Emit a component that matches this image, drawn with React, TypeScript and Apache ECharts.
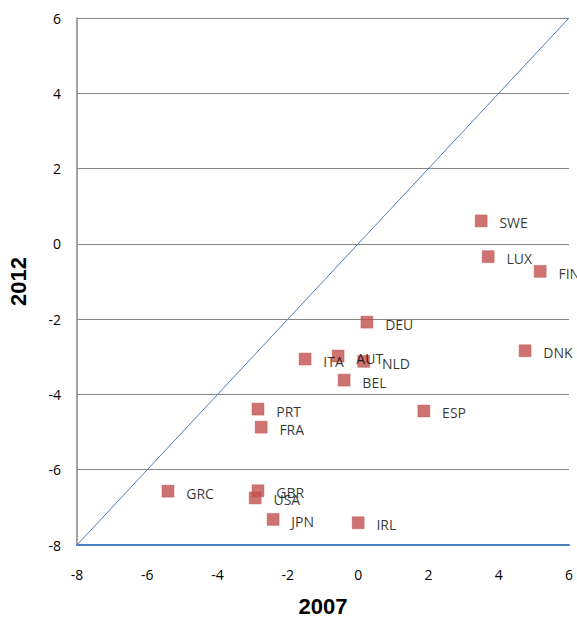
import React, { useEffect, useRef } from "react";
import * as echarts from "echarts";

const countries = ["SWE", "LUX", "FIN", "DEU", "DNK", "ITA", "AUT", "NLD", "BEL", "PRT", "FRA", "ESP", "GRC", "GBR", "USA", "JPN", "IRL"];
const values2007 = [3.5, 3.7, 5.18, 0.25, 4.75, -1.51, -0.57, 0.16, -0.4, -2.85, -2.76, 1.87, -5.41, -2.85, -2.93, -2.42, 0.0];
const values2012 = [0.61, -0.34, -0.73, -2.08, -2.84, -3.06, -2.98, -3.12, -3.62, -4.39, -4.87, -4.44, -6.57, -6.56, -6.75, -7.32, -7.41];
const diagonal = [[-8, -8], [6, 6]];
const axisMin = -8;
const axisMax = 6;
const axisStep = 2;

export default function App() {
  const ref = useRef<HTMLDivElement>(null);
  useEffect(() => {
    if (!ref.current) return;
    document.body.style.margin = "0";
    document.body.style.overflow = "hidden";
    const chart = echarts.init(ref.current, null, { renderer: "svg" });
    const points = countries.map((c, i) => ({ name: c, value: [values2007[i], values2012[i]] }));
    chart.setOption({
      animation: false,
      backgroundColor: "#ffffff",
      grid: { left: 77, top: 18, right: 8, bottom: 76, containLabel: false, outerBoundsMode: "none" },
      xAxis: {
        type: "value",
        min: axisMin,
        max: axisMax,
        interval: axisStep,
        name: "2007",
        nameLocation: "middle",
        nameGap: 50,
        nameTextStyle: { fontFamily: "Liberation Sans", fontWeight: "bold", fontSize: 22, color: "#000" },
        axisLine: { show: true, onZero: false, lineStyle: { color: "#4a7ebb", width: 2 } },
        axisTick: { show: false },
        splitLine: { show: false },
        axisLabel: { margin: 22, fontFamily: "Open Sans", fontSize: 14, color: "#000" },
      },
      yAxis: {
        type: "value",
        min: axisMin,
        max: axisMax,
        interval: axisStep,
        name: "2012",
        nameLocation: "middle",
        nameGap: 48,
        nameRotate: 90,
        nameTextStyle: { fontFamily: "Liberation Sans", fontWeight: "bold", fontSize: 22, color: "#000" },
        axisLine: { show: true, onZero: false, lineStyle: { color: "#868686", width: 1.5 } },
        axisTick: { show: false },
        splitLine: { show: true, lineStyle: { color: "#868686", width: 1 } },
        axisLabel: { margin: 16, fontFamily: "Open Sans", fontSize: 14, color: "#000" },
      },
      series: [
        {
          type: "line",
          data: diagonal,
          symbol: "none",
          lineStyle: { color: "#4a7ebb", width: 1 },
          silent: true,
          z: 1,
        },
        {
          type: "scatter",
          data: points,
          symbol: "rect",
          symbolSize: 12,
          itemStyle: { color: "#c0504d", borderColor: "#c0504d", borderWidth: 0.5 },
          label: {
            show: true,
            position: "right",
            distance: 12,
            offset: [0, 2],
            formatter: (p: any) => p.name,
            fontFamily: "Open Sans",
            fontSize: 14,
            color: "#000",
          },
          z: 3,
        },
      ],
    });
    return () => chart.dispose();
  }, []);
  return <div ref={ref} style={{ position: "fixed", left: 0, top: 0, width: 577, height: 621 }} />;
}
